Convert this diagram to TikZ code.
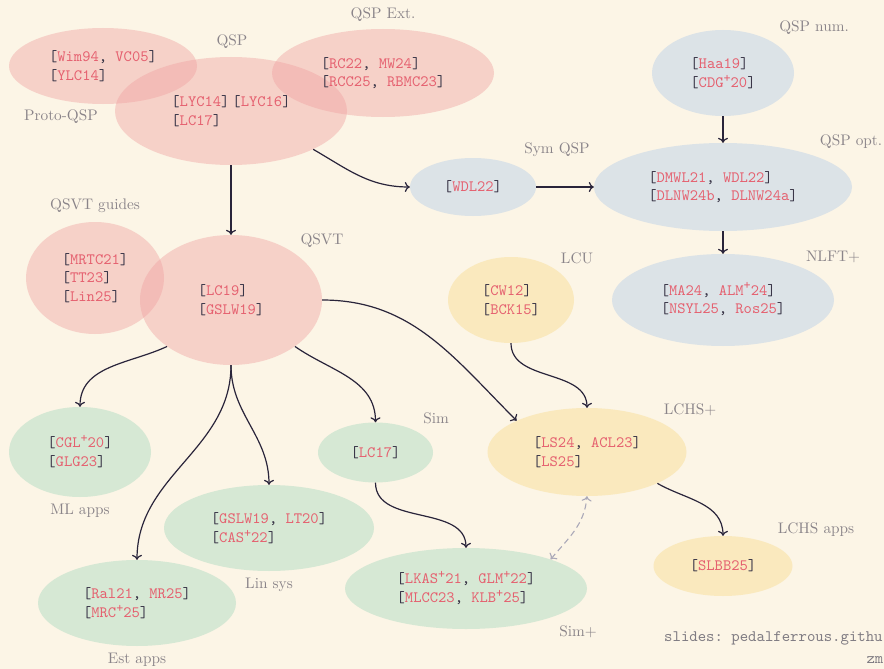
\documentclass[tikz,border=0pt]{standalone}
\usepackage{fontspec}
\setmonofont{lmmono10-regular}[Extension=.otf]
\newfontfamily\labfont{lmroman10-regular}[Extension=.otf]
\usetikzlibrary{shapes.geometric,arrows.meta}
\definecolor{bg}{HTML}{FCF5E6}
\definecolor{refred}{HTML}{E5606F}
\definecolor{brk}{HTML}{3A3648}
\definecolor{lbl}{HTML}{8A8489}
\definecolor{pinkb}{HTML}{F0A0A0}
\definecolor{bluef}{HTML}{DCE3E7}
\definecolor{yellf}{HTML}{FAE9BE}
\definecolor{greenf}{HTML}{D6E8D4}
\definecolor{arr}{HTML}{29243A}
\definecolor{dashc}{HTML}{ABA9B8}
\definecolor{footc}{HTML}{7F7B82}
\newcommand\rf[1]{\textcolor{refred}{#1}}
\newcommand\br[1]{[\rf{#1}]}
\newcommand\brr[2]{[\rf{#1}, \rf{#2}]}
\newcommand\supplus{\raisebox{0.32em}[0.6em][0pt]{\fontsize{13.5}{13.5}\selectfont +}}
\tikzset{
  ell/.style={ellipse, inner sep=0pt, align=left, text=brk,
    font=\fontsize{15.8}{18.7}\selectfont\ttfamily},
  pinkell/.style={ell, fill=pinkb, fill opacity=0.42, text opacity=1},
  blueell/.style={ell, fill=bluef},
  yellell/.style={ell, fill=yellf},
  greenell/.style={ell, fill=greenf},
  lab/.style={text=lbl, inner sep=0pt, font=\fontsize{15.3}{18}\selectfont\labfont},
  foot/.style={text=footc, inner sep=0pt, font=\fontsize{16}{19}\selectfont\ttfamily},
  conn/.style={draw=arr, line width=1.2pt,
    -{Computer Modern Rightarrow[length=5pt,width=10pt]}},
  dashconn/.style={draw=dashc, line width=1.1pt, dash pattern=on 6pt off 4pt,
    {Computer Modern Rightarrow[length=5pt,width=10pt]}-{Computer Modern Rightarrow[length=5pt,width=10pt]}},
}
\begin{document}
\begin{tikzpicture}[x=1pt,y=1pt]
\useasboundingbox (0,0) rectangle (884,-669);
\fill[bg] (0,0) rectangle (884,-669);

% pink ellipses
\node[pinkell, minimum width=188, minimum height=76] (protoqsp) at (103,-66)
  {\brr{Wim94}{VC05}\\\br{YLC14}};
\node[pinkell, minimum width=232, minimum height=108] (qsp) at (231,-111)
  {\br{LYC14}\hspace{3pt}\br{LYC16}\\\br{LC17}};
\node[pinkell, minimum width=222, minimum height=88] (qspext) at (383,-73)
  {\brr{RC22}{MW24}\\\brr{RCC25}{RBMC23}};
\node[pinkell, minimum width=138, minimum height=112] (guides) at (95,-278)
  {\br{MRTC21}\\\br{TT23}\\\br{Lin25}};
\node[pinkell, minimum width=182, minimum height=130] (qsvt) at (231,-300)
  {\br{LC19}\\\br{GSLW19}};

% blue ellipses
\node[blueell, minimum width=142, minimum height=86] (qspnum) at (723,-73)
  {\br{Haa19}\\\br{CDG\supplus20}};
\node[blueell, minimum width=126, minimum height=58] (symqsp) at (473,-187)
  {\br{WDL22}};
\node[blueell, minimum width=258, minimum height=88] (qspopt) at (723,-187)
  {\brr{DMWL21}{WDL22}\\\brr{DLNW24b}{DLNW24a}};
\node[blueell, minimum width=222, minimum height=92] (nlft) at (723,-300)
  {\brr{MA24}{ALM\supplus24}\\\brr{NSYL25}{Ros25}};

% yellow ellipses
\node[yellell, minimum width=126, minimum height=86] (lcu) at (511,-300)
  {\br{CW12}\\\br{BCK15}};
\node[yellell, minimum width=199, minimum height=88] (lchs) at (587,-452)
  {\brr{LS24}{ACL23}\\\br{LS25}};
\node[yellell, minimum width=139, minimum height=60] (lchsapps) at (723,-566)
  {\br{SLBB25}};

% green ellipses
\node[greenell, minimum width=142, minimum height=90] (ml) at (80,-452)
  {\br{CGL\supplus20}\\\br{GLG23}};
\node[greenell, minimum width=210, minimum height=86] (linsys) at (269,-528)
  {\brr{GSLW19}{LT20}\\\br{CAS\supplus22}};
\node[greenell, minimum width=198, minimum height=86] (est) at (137,-603)
  {\brr{Ral21}{MR25}\\\br{MRC\supplus25}};
\node[greenell, minimum width=115, minimum height=60] (sim) at (375.5,-452.5)
  {\br{LC17}};
\node[greenell, minimum width=242, minimum height=81] (simplus) at (466,-588.5)
  {\brr{LKAS\supplus21}{GLM\supplus22}\\\brr{MLCC23}{KLB\supplus25}};

% labels
\node[lab] (lprotoqsp) at (61,-117) {Proto-QSP};
\node[lab] (lqsp) at (232,-42) {QSP};
\node[lab] (lqspext) at (383,-15) {QSP Ext.};
\node[lab] (lqspnum) at (814,-28) {QSP num.};
\node[lab] (lsymqsp) at (557,-150) {Sym QSP};
\node[lab] (lqspopt) at (851,-142) {QSP opt.};
\node[lab] (lnlft) at (833,-257) {NLFT+};
\node[lab] (llcu) at (577,-258) {LCU};
\node[lab] (lguides) at (95,-206) {QSVT guides};
\node[lab] (lqsvt) at (322,-241) {QSVT};
\node[lab] (lml) at (80,-511) {ML apps};
\node[lab] (llinsys) at (269,-585) {Lin sys};
\node[lab] (lest) at (137,-660) {Est apps};
\node[lab] (lsim) at (436,-418) {Sim};
\node[lab] (lsimplus) at (578,-632) {Sim+};
\node[lab] (llchs) at (690,-410) {LCHS+};
\node[lab] (llchsapps) at (816,-530) {LCHS apps};

% footer
\node[foot, anchor=west] (foot1) at (664,-638) {slides: pedalferrous.githu};
\node[foot, anchor=east] (foot2) at (883.5,-660) {zm};

% connectors
\draw[conn] (qsp.south) -- (qsvt.north);
\draw[conn] (qsp.-25) to[out=-30,in=180] (symqsp.west);
\draw[conn] (symqsp.east) -- (qspopt.west);
\draw[conn] (qspnum.south) -- (qspopt.north);
\draw[conn] (qspopt.south) -- (nlft.north);
\draw[conn] (qsvt.-144) to[out=-155,in=90] (ml.north);
\draw[conn] (qsvt.south) to[out=-90,in=90] (est.north);
\draw[conn] (qsvt.south) to[out=-90,in=90] (linsys.north);
\draw[conn] (qsvt.-36) to[out=-35,in=90] (sim.north);
\draw[conn] (qsvt.east) to[out=0,in=135] (lchs.156);
\draw[conn] (lcu.south) to[out=-90,in=90] (lchs.north);
\draw[conn] (sim.south) to[out=-90,in=90] (simplus.north);
\draw[conn] (lchs.-24) to[out=-30,in=90] (lchsapps.north);
\draw[dashconn] (simplus.19) to[out=50,in=-95] (lchs.south);
\end{tikzpicture}
\end{document}
